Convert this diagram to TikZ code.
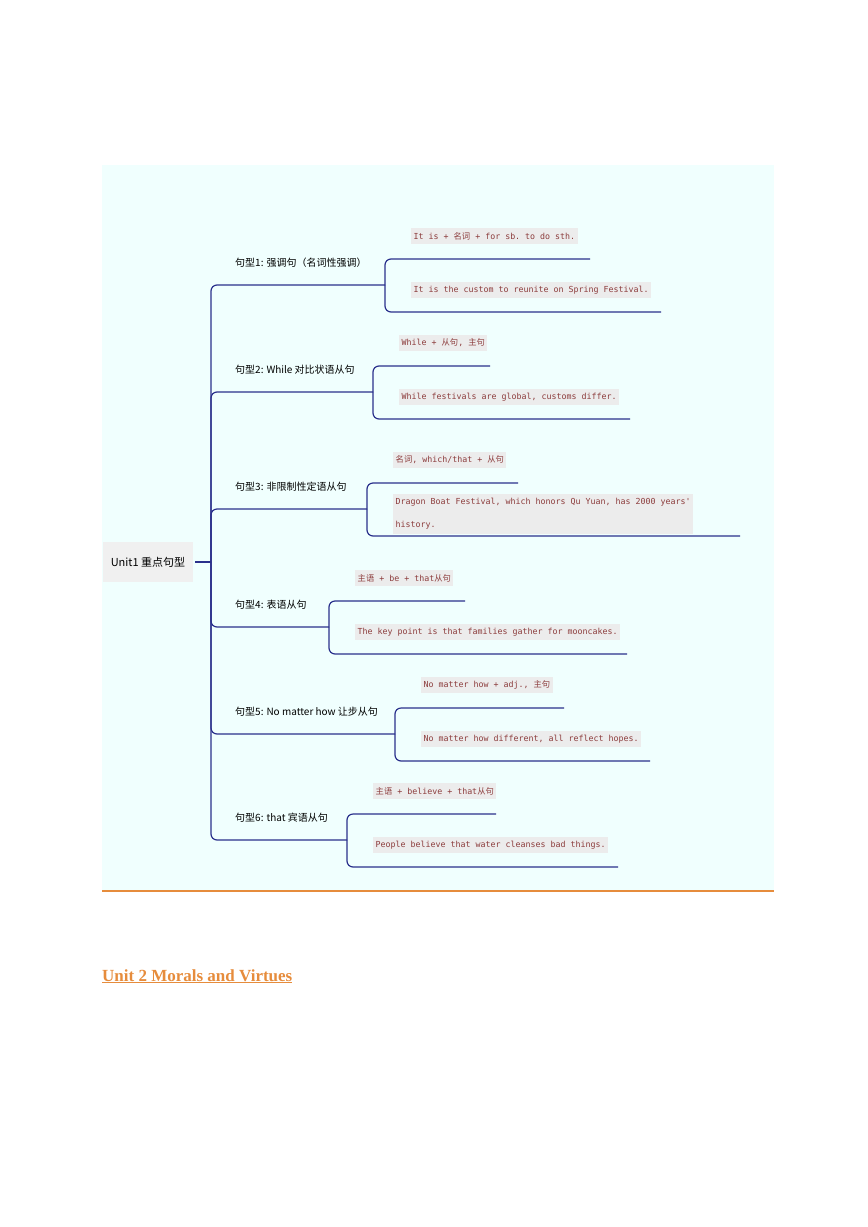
\documentclass[tikz,border=0pt]{standalone}
\usepackage{fontspec}
\setmainfont{Liberation Serif}
\setmonofont{DejaVu Sans Mono}
\newfontfamily\cjk{Noto Sans CJK SC}
\usetikzlibrary{positioning}
\definecolor{mapbg}{RGB}{240,255,254}
\definecolor{mapline}{RGB}{42,48,140}
\definecolor{codebg}{RGB}{236,236,236}
\definecolor{codetext}{RGB}{140,60,60}
\definecolor{rootbg}{RGB}{240,240,240}
\definecolor{unitorange}{RGB}{230,140,60}
\newcommand{\zh}[1]{{\cjk #1}}
\tikzset{
  branch/.style={draw=mapline, line width=1.2pt, rounded corners=6pt},
  topic/.style={font=\cjk\fontsize{10}{12}\selectfont, inner sep=0pt, anchor=base west},
  sample/.style={fill=codebg, text=codetext, font=\ttfamily\fontsize{8.3}{23}\selectfont,
    inner xsep=2.5pt, inner ysep=4pt, anchor=west, align=left},
  root-box/.style={fill=rootbg, font=\cjk\fontsize{11}{13}\selectfont, minimum width=90pt, minimum height=40pt}
}
\begin{document}
\begin{tikzpicture}[x=1pt,y=-1pt]
  \useasboundingbox (0,0) rectangle (868,1227);
  % panel
  \fill[mapbg] (102,165) rectangle (774,890);
  \draw[unitorange, line width=1.2pt] (102,891) -- (774,891);
  % root
  \node[root-box] (root) at (148,562) {Unit1 重点句型};
  \coordinate (trunk) at (211,562);
  \draw[branch] (root.east) ++(2,0) -- (trunk);
  % branches
  \foreach \i/\by/\bx/\te/\be/\lab/\ta/\tb in {
    1/285/385/590/661/{句型1: 强调句（名词性强调）}/{It is + \zh{名词} + for sb. to do sth.}/{It is the custom to reunite on Spring Festival.},
    2/392/373/490/630/{句型2: While 对比状语从句}/{While + \zh{从句}, \zh{主句}}/{While festivals are global, customs differ.},
    3/509/367/518/740/{句型3: 非限制性定语从句}/{\zh{名词}, which/that + \zh{从句}}/{Dragon Boat Festival, which honors Qu Yuan, has 2000 years'\\history.},
    4/627/329/465/627/{句型4: 表语从句}/{\zh{主语} + be + that\zh{从句}}/{The key point is that families gather for mooncakes.},
    5/734/395/564/650/{句型5: No matter how 让步从句}/{No matter how + adj., \zh{主句}}/{No matter how different, all reflect hopes.},
    6/840/347/496/618/{句型6: that 宾语从句}/{\zh{主语} + believe + that\zh{从句}}/{People believe that water cleanses bad things.}}{
    \coordinate (b\i) at (\bx,\by);
    \coordinate (u\i) at (\te,\by-26);
    \coordinate (d\i) at (\be,\by+27);
    \draw[branch] (trunk) |- (b\i);
    \draw[branch] (b\i) |- (u\i);
    \draw[branch] (b\i) |- (d\i);
    \node[topic] (t\i) at (235,\by-19) {\lab};
    \node[sample] (p\i) at (\bx+26,\by-49) {\ta};
    \node[sample] (q\i) at (\bx+26,\by+5) {\tb};
  }
  % heading below the map
  \node[anchor=base west, inner sep=0pt, text=unitorange,
    font=\bfseries\fontsize{17}{20}\selectfont] (unit2) at (102,981) {\underline{Unit 2 Morals and Virtues}};
\end{tikzpicture}
\end{document}
